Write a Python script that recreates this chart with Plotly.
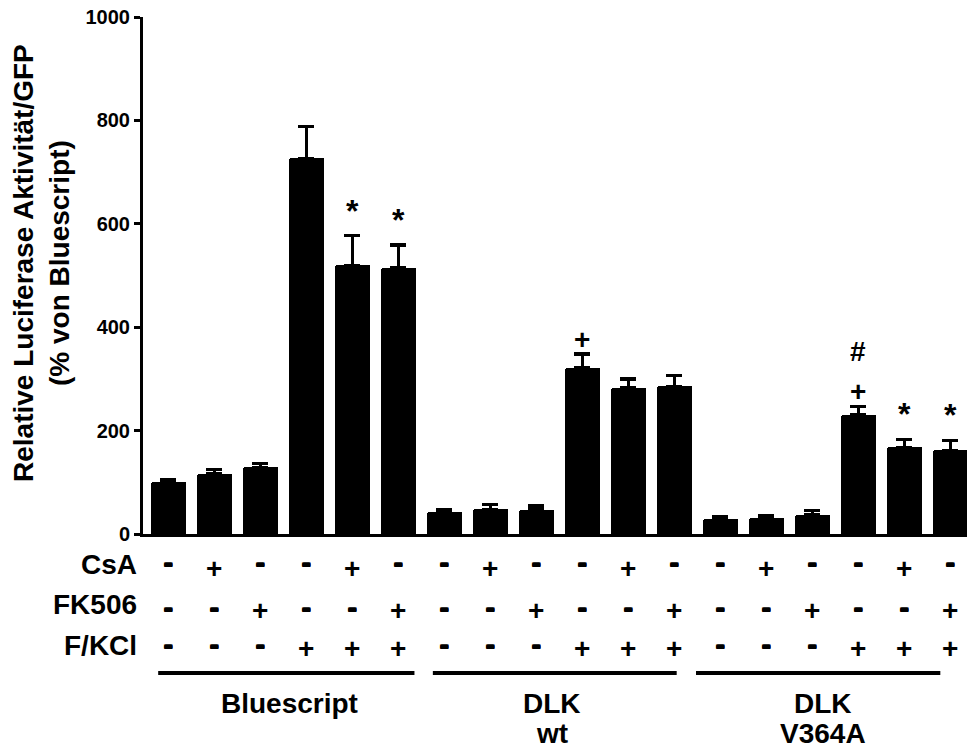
import plotly.graph_objects as go

# Luciferase reporter activity, normalised to GFP (% of Bluescript control)
groups = ["Bluescript", "DLK<br>wt", "DLK<br>V364A"]
treatment_rows = ["CsA", "FK506", "F/KCl"]
csa = ["-", "+", "-", "-", "+", "-",
       "-", "+", "-", "-", "+", "-",
       "-", "+", "-", "-", "+", "-"]
fk506 = ["-", "-", "+", "-", "-", "+",
         "-", "-", "+", "-", "-", "+",
         "-", "-", "+", "-", "-", "+"]
fkcl = ["-", "-", "-", "+", "+", "+",
        "-", "-", "-", "+", "+", "+",
        "-", "-", "-", "+", "+", "+"]
values = [101, 117, 129, 727, 520, 515,
          42, 48, 47, 322, 283, 286,
          29, 31, 37, 231, 168, 162]
errors = [4, 8, 7, 61, 57, 44,
          6, 9, 7, 26, 17, 21,
          4, 5, 8, 16, 15, 19]
# significance marks over each bar (lower and upper row)
marks = ["", "", "", "", "*", "*",
         "", "", "", "+", "", "",
         "", "", "", "+", "*", "*"]
marks_upper = ["", "", "", "", "", "",
               "", "", "", "", "", "",
               "", "", "", "#", "", ""]

FONT = "Liberation Sans, Arial, Helvetica, sans-serif"
W, H = 967, 749
ML, MR, MT, MB = 143, 0, 17, 215
PH = H - MT - MB
PW = W - ML - MR


def py(p):
    """pixel row -> paper y"""
    return (H - MB - p) / PH


def px(p):
    """pixel column -> paper x"""
    return (p - ML) / PW


def bold(size, **kw):
    return dict(family=FONT, size=size, color="black", weight="bold", **kw)


xs = list(range(len(values)))

fig = go.Figure()
fig.add_trace(go.Bar(
    x=xs, y=values, width=0.75,
    marker=dict(color="black", line=dict(width=0), cornerradius=2),
    error_y=dict(type="data", symmetric=False, array=errors,
                 arrayminus=[0] * len(errors),
                 color="black", thickness=3.2, width=8),
    hoverinfo="skip",
))

ann = []
# significance symbols above error bars
for i, (v, e, m, mu) in enumerate(zip(values, errors, marks, marks_upper)):
    if m == "*":
        ann.append(dict(x=i, y=v + e, xref="x", yref="y", text=m, showarrow=False,
                        yanchor="middle", yshift=25, font=bold(32)))
    elif m:
        ann.append(dict(x=i, y=v + e, xref="x", yref="y", text=m, showarrow=False,
                        yanchor="middle", yshift=15, font=bold(28)))
    if mu:
        ann.append(dict(x=i, y=v + e, xref="x", yref="y", text=mu, showarrow=False,
                        yanchor="middle", yshift=55, font=bold(28)))

# treatment table under the x axis
row_minus_y = [562, 607, 644]
row_plus_y = [568, 610, 648]
row_label_y = [564, 604, 645]
thick = "1px 0px 0px black, 0px 1px 0px black, 1px 1px 0px black"
for r, (name, row) in enumerate(zip(treatment_rows, [csa, fk506, fkcl])):
    ann.append(dict(x=px(139), y=py(row_label_y[r]), xref="paper", yref="paper",
                    text=name, showarrow=False, xanchor="right", yanchor="middle",
                    font=bold(28)))
    for i, s in enumerate(row):
        if s == "+":
            ann.append(dict(x=i, y=py(row_plus_y[r]), xref="x", yref="paper",
                            text="+", showarrow=False, yanchor="middle",
                            font=bold(28)))
        else:
            ann.append(dict(x=i, y=py(row_minus_y[r]), xref="x", yref="paper",
                            text="-", showarrow=False, yanchor="middle",
                            font=bold(29, shadow=thick)))

# group rules and names
rule_spans = [(-0.22, 5.35), (5.75, 11.05), (11.47, 16.78)]
label_nudge = [0.08, -0.06, 0.1]
shapes = []
for g, (a, b) in enumerate(rule_spans):
    shapes.append(dict(type="line", xref="x", yref="paper", x0=a, x1=b,
                       y0=py(673), y1=py(673), line=dict(color="black", width=4)))
    lines = groups[g].split("<br>")
    for k, t in enumerate(lines):
        ann.append(dict(x=(a + b) / 2 + label_nudge[g], y=py(703 + 30 * k),
                        xref="x", yref="paper", text=t, showarrow=False,
                        yanchor="middle", font=bold(28)))

# y axis title
ann.append(dict(x=px(41), y=py(263), xref="paper", yref="paper",
                text="Relative Luciferase Aktivität/GFP<br>(% von Bluescript)",
                textangle=-90, showarrow=False, xanchor="center", yanchor="middle",
                font=bold(28)))

fig.update_layout(
    width=W, height=H,
    margin=dict(l=ML, r=MR, t=MT, b=MB, pad=0),
    paper_bgcolor="white", plot_bgcolor="white",
    showlegend=False,
    annotations=ann, shapes=shapes,
    bargap=0,
)
fig.update_xaxes(range=[-0.55, 17.36], showticklabels=False, ticks="",
                 showline=True, linecolor="black", linewidth=3,
                 showgrid=False, zeroline=False, fixedrange=True)
fig.update_yaxes(range=[0, 1000], tickvals=[0, 200, 400, 600, 800, 1000],
                 ticks="outside", ticklen=6, tickwidth=3, tickcolor="black",
                 showline=True, linecolor="black", linewidth=3,
                 showgrid=False, zeroline=False,
                 tickfont=bold(20), fixedrange=True)

fig.write_html("out.html")
